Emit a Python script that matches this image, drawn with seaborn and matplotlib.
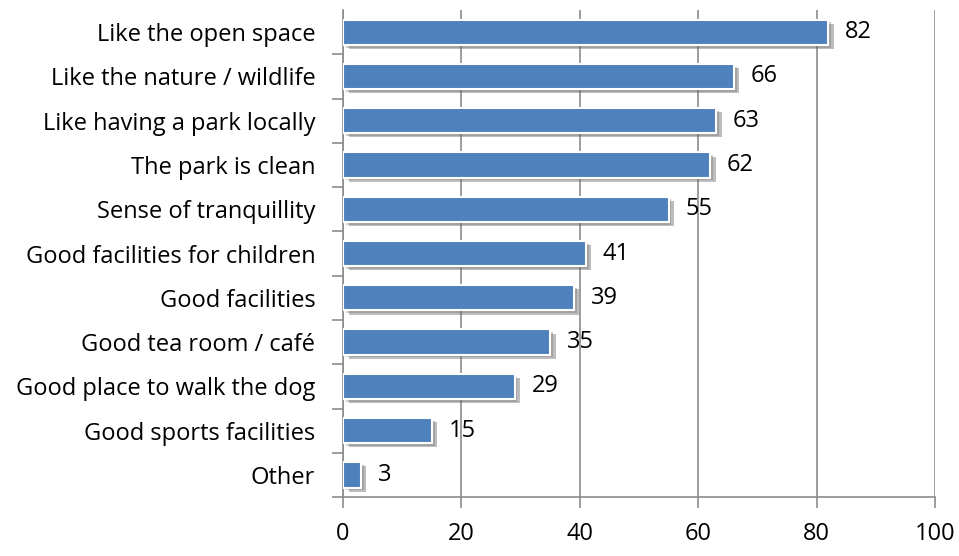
import matplotlib
matplotlib.use("Agg")
import matplotlib.pyplot as plt
import matplotlib.patheffects as pe
import seaborn as sns
import pandas as pd

reasons = [
    "Like the open space",
    "Like the nature / wildlife",
    "Like having a park locally",
    "The park is clean",
    "Sense of tranquillity",
    "Good facilities for children",
    "Good facilities",
    "Good tea room / café",
    "Good place to walk the dog",
    "Good sports facilities",
    "Other",
]
percent = [82, 66, 63, 62, 55, 41, 39, 35, 29, 15, 3]
x_ticks = [0, 20, 40, 60, 80, 100]

df = pd.DataFrame({"reason": reasons, "percent": percent})

sns.set_theme(style="white")
plt.rcParams["font.family"] = ["Open Sans", "DejaVu Sans"]
FS = 17

fig = plt.figure(figsize=(9.59, 5.56), dpi=100)
ax = fig.add_axes([0.3577, 0.106, 0.6173, 0.876])

sns.barplot(data=df, x="percent", y="reason", orient="h", color="#4F81BD",
            saturation=1, width=0.57, edgecolor="white", linewidth=1.5, ax=ax, zorder=3)

for bar in ax.patches:
    bar.set_path_effects([
        pe.SimplePatchShadow(offset=(4, -3), shadow_rgbFace="#6e6e6e", alpha=0.45),
        pe.SimplePatchShadow(offset=(2, -2), shadow_rgbFace="#6e6e6e", alpha=0.35),
        pe.Normal(),
    ])

ax.bar_label(ax.containers[0], labels=[str(v) for v in percent], padding=12,
             fontsize=FS, color="black")

ax.set_xlim(0, 100)
ax.set_xticks(x_ticks)
ax.set_xticklabels([str(t) for t in x_ticks], fontsize=FS, color="black")
ax.set_ylim(len(reasons) - 0.5, -0.5)
ax.set_xlabel("")
ax.set_ylabel("")
for lbl in ax.get_yticklabels():
    lbl.set_fontsize(FS)
    lbl.set_color("black")

ax.xaxis.grid(True, color="#8c8c8c", linewidth=1.2, zorder=0)
ax.set_axisbelow(True)
for side in ["top", "right"]:
    ax.spines[side].set_visible(False)
for side in ["left", "bottom"]:
    ax.spines[side].set_color("#8c8c8c")
    ax.spines[side].set_linewidth(1.2)

ax.tick_params(axis="y", which="major", left=False, pad=14)
ax.tick_params(axis="x", which="major", bottom=True, length=8, width=1.2,
               color="#8c8c8c", pad=10)
ax.set_yticks([i + 0.5 for i in range(len(reasons))], minor=True)
ax.tick_params(axis="y", which="minor", left=True, length=8, width=1.2, color="#8c8c8c")

fig.savefig("out.png", dpi=100)
